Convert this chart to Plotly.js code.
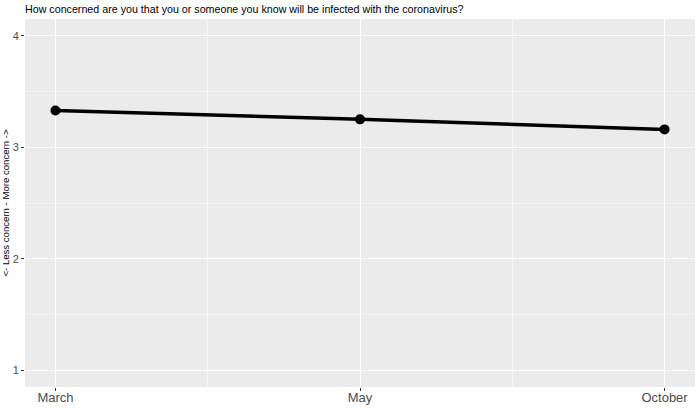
<!DOCTYPE html>
<html>
<head>
<meta charset="utf-8">
<script src="https://cdn.plot.ly/plotly-3.0.1.min.js"></script>
<style>html,body{margin:0;padding:0;background:#fff;}#chart{width:700px;height:408px;}</style>
</head>
<body>
<div id="chart"></div>
<script>
const months = ["March", "May", "October"];
const concern = [3.33, 3.25, 3.16];
const yTicks = [1, 2, 3, 4];

const xIdx = months.map((_, i) => i);

const trace = {
  x: xIdx,
  y: concern,
  type: "scatter",
  mode: "lines+markers",
  line: {color: "#000000", width: 3.5},
  marker: {color: "#000000", size: 10},
  hoverinfo: "skip",
  showlegend: false
};

const layout = {
  width: 700,
  height: 408,
  margin: {l: 25, r: 5, t: 19, b: 21},
  paper_bgcolor: "#ffffff",
  plot_bgcolor: "#EBEBEB",
  font: {family: "Liberation Sans, Arial, sans-serif", color: "#4D4D4D"},
  title: {
    text: "How concerned are you that you or someone you know will be infected with the coronavirus?",
    font: {size: 10.7, color: "#000000"},
    x: 25 / 700, xanchor: "left", xref: "container",
    y: 1 - 9 / 408, yanchor: "middle", yref: "container"
  },
  xaxis: {
    range: [-0.1, 2.1],
    tickvals: xIdx,
    ticktext: months,
    tickfont: {size: 13, color: "#4D4D4D"},
    ticks: "outside", ticklen: 3, tickcolor: "#333333", tickwidth: 1,
    ticklabelstandoff: -5,
    showgrid: true, gridcolor: "#ffffff", gridwidth: 1,
    minor: {dtick: 0.5, tick0: 0, showgrid: true, gridcolor: "#ffffff", gridwidth: 0.5, ticks: ""},
    zeroline: false, showline: false, fixedrange: true
  },
  yaxis: {
    range: [0.85, 4.15],
    tickvals: yTicks,
    ticktext: yTicks.map(String),
    tickfont: {size: 11, color: "#4D4D4D"},
    ticks: "outside", ticklen: 3, tickcolor: "#333333", tickwidth: 1,
    showgrid: true, gridcolor: "#ffffff", gridwidth: 1,
    minor: {dtick: 0.5, tick0: 0.5, showgrid: true, gridcolor: "#ffffff", gridwidth: 0.5, ticks: ""},
    zeroline: false, showline: false, fixedrange: true,
    title: {text: "<- Less concern - More concern ->", font: {size: 9.6, color: "#000000"}, standoff: 4}
  }
};

Plotly.newPlot("chart", [trace], layout, {displayModeBar: false, staticPlot: true});
</script>
</body>
</html>
